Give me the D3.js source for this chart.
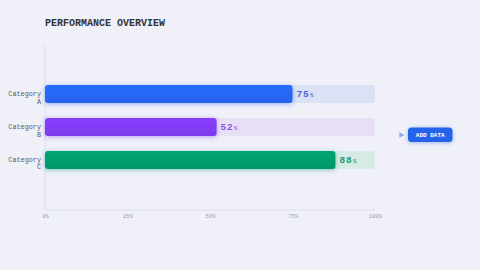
<!DOCTYPE html>
<html>
<head>
<meta charset="utf-8">
<script src="https://cdn.jsdelivr.net/npm/d3@7"></script>
<style>
  html, body { margin: 0; padding: 0; background: #eff0f8; }
  svg { display: block; }
</style>
</head>
<body>
<div id="chart"></div>
<script>
const categories = ['A', 'B', 'C'];
const values = [75, 52, 88];
const barColors = ['#2563eb', '#7c3aed', '#059669'];
const trackColors = ['#dbe2f5', '#e7e0f5', '#d6eae6'];
const labelColors = ['#4466d4', '#8a55e8', '#1f9a72'];
const tickValues = [0, 25, 50, 75, 100];

const W = 480, H = 270;
const mono = '"Liberation Mono", "DejaVu Sans Mono", monospace';

const svg = d3.select('#chart').append('svg')
    .attr('width', W)
    .attr('height', H);

const defs = svg.append('defs');

barColors.forEach((c, i) => {
    const f = defs.append('filter')
        .attr('id', 'glow' + i)
        .attr('x', '-20%').attr('y', '-80%')
        .attr('width', '140%').attr('height', '260%');
    f.append('feDropShadow')
        .attr('dx', 0).attr('dy', 1)
        .attr('stdDeviation', 2.5)
        .attr('flood-color', c)
        .attr('flood-opacity', 0.45);

    const g = defs.append('linearGradient')
        .attr('id', 'grad' + i)
        .attr('x1', 0).attr('y1', 0).attr('x2', 0).attr('y2', 1);
    g.append('stop').attr('offset', '0%').attr('stop-color', d3.color(c).brighter(0.25));
    g.append('stop').attr('offset', '100%').attr('stop-color', c);
});

const btnGlow = defs.append('filter')
    .attr('id', 'btnglow')
    .attr('x', '-30%').attr('y', '-60%')
    .attr('width', '160%').attr('height', '220%');
btnGlow.append('feDropShadow')
    .attr('dx', 0).attr('dy', 1)
    .attr('stdDeviation', 2)
    .attr('flood-color', '#2563eb')
    .attr('flood-opacity', 0.4);

const x = d3.scaleLinear()
    .domain([0, 100])
    .range([45, 375]);

const y = d3.scaleBand()
    .domain(categories)
    .range([77.5, 176.5])
    .paddingInner(0.455)
    .paddingOuter(0.23);

// title
svg.append('text')
    .attr('x', 45)
    .attr('y', 26)
    .attr('font-family', mono)
    .attr('font-size', 10)
    .attr('font-weight', 'bold')
    .attr('fill', '#333')
    .text('PERFORMANCE OVERVIEW');

// axis frame lines
svg.append('line')
    .attr('x1', x(0)).attr('x2', x(0))
    .attr('y1', 45).attr('y2', 210)
    .attr('stroke', '#dcdeea')
    .attr('stroke-width', 1);

svg.append('line')
    .attr('x1', x(0)).attr('x2', x(100))
    .attr('y1', 210).attr('y2', 210)
    .attr('stroke', '#dcdeea')
    .attr('stroke-width', 1);

// x tick labels
const xAxis = d3.axisBottom(x)
    .tickValues(tickValues)
    .tickFormat(d => d + '%')
    .tickSize(0)
    .tickPadding(0);

const ax = svg.append('g')
    .attr('transform', 'translate(0,214)')
    .call(xAxis);
ax.select('.domain').remove();
ax.selectAll('text')
    .attr('font-family', mono)
    .attr('font-size', 5.5)
    .attr('fill', '#a0a2ad');

// tracks
svg.selectAll('rect.track')
    .data(categories)
    .enter()
    .append('rect')
    .attr('class', 'track')
    .attr('x', x(0))
    .attr('y', d => y(d))
    .attr('width', x(100) - x(0))
    .attr('height', y.bandwidth())
    .attr('rx', 3)
    .attr('fill', (d, i) => trackColors[i]);

// bars
svg.selectAll('rect.bar')
    .data(values)
    .enter()
    .append('rect')
    .attr('class', 'bar')
    .attr('x', x(0))
    .attr('y', (d, i) => y(categories[i]))
    .attr('width', d => x(d) - x(0))
    .attr('height', y.bandwidth())
    .attr('rx', 3)
    .attr('fill', (d, i) => 'url(#grad' + i + ')')
    .attr('filter', (d, i) => 'url(#glow' + i + ')');

// category labels
const catLabels = svg.selectAll('text.cat')
    .data(categories)
    .enter()
    .append('text')
    .attr('class', 'cat')
    .attr('font-family', mono)
    .attr('font-size', 6.8)
    .attr('fill', '#5a5a5f')
    .attr('text-anchor', 'end');

catLabels.append('tspan')
    .attr('x', 41)
    .attr('y', d => y(d) + y.bandwidth() / 2 + 2)
    .text('Category');
catLabels.append('tspan')
    .attr('x', 41)
    .attr('y', d => y(d) + y.bandwidth() / 2 + 9.5)
    .text(d => d);

// value labels
const valLabels = svg.selectAll('text.val')
    .data(values)
    .enter()
    .append('text')
    .attr('class', 'val')
    .attr('x', d => x(d) + 4)
    .attr('y', (d, i) => y(categories[i]) + y.bandwidth() / 2 + 3.2)
    .attr('font-family', mono)
    .attr('font-weight', 'bold')
    .attr('fill', (d, i) => labelColors[i]);

valLabels.append('tspan')
    .attr('font-size', 9.5)
    .attr('letter-spacing', 0.8)
    .text(d => d);
valLabels.append('tspan')
    .attr('font-size', 5.5)
    .attr('dx', 0.5)
    .text('%');

// add data button
svg.append('path')
    .attr('d', d3.symbol().type(d3.symbolTriangle).size(14)())
    .attr('transform', 'translate(401,135) rotate(90)')
    .attr('fill', '#8fa4e0');

svg.append('rect')
    .attr('x', 408)
    .attr('y', 127.5)
    .attr('width', 44.5)
    .attr('height', 14.5)
    .attr('rx', 3.5)
    .attr('fill', '#2563eb')
    .attr('filter', 'url(#btnglow)');

svg.append('text')
    .attr('x', 430.2)
    .attr('y', 137)
    .attr('text-anchor', 'middle')
    .attr('font-family', mono)
    .attr('font-size', 6)
    .attr('font-weight', 'bold')
    .attr('fill', '#fff')
    .text('ADD DATA');
</script>
</body>
</html>
